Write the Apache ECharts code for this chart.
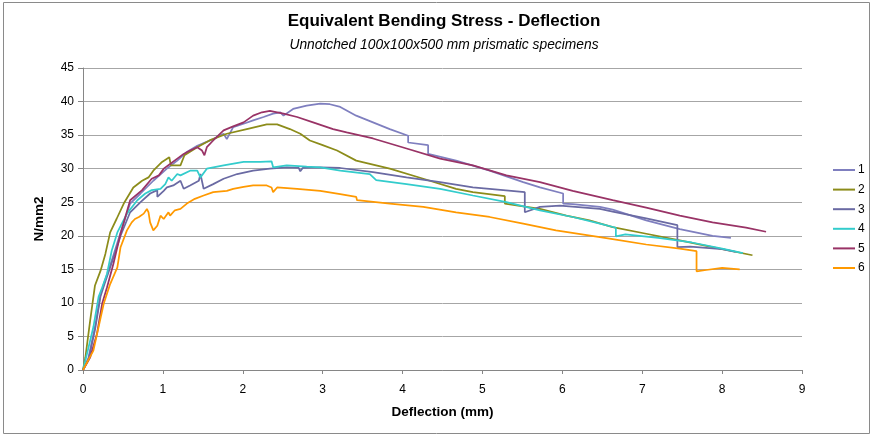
<!DOCTYPE html>
<html><head><meta charset="utf-8">
<script src="https://cdn.jsdelivr.net/npm/echarts@6/dist/echarts.min.js"></script>
<style>html,body{margin:0;padding:0;background:#fff}#c{width:873px;height:436px}</style>
</head><body><div id="c"></div>
<script>
const seriesNames = ['1','2','3','4','5','6'];
const seriesColors = ['#7F7FBF','#8C8C1A','#6A6AA3','#33CCCC','#993366','#FF9900'];
const xTicks = [0,1,2,3,4,5,6,7,8,9];
const yTicks = [0,5,10,15,20,25,30,35,40,45];

const defl1 = [0,0.07,0.15,0.22,0.26,0.36,0.47,0.59,0.72,0.88,1.05,1.18,1.3,1.43,1.63,1.76,1.8,1.88,2.01,2.13,2.26,2.38,2.47,2.51,2.63,2.8,2.97,3.09,3.22,3.42,3.63,3.84,4.07,4.07,4.32,4.32,4.67,5.09,5.51,5.72,6.01,6.01,6.13,6.47,6.63,7.05,7.47,7.88,8.11];
const stress1 = [0,1.9,6.4,11.4,12.8,16.3,20.5,24.8,26.3,28.2,30,31.2,32.5,33.4,34.4,35.2,34.4,36.2,36.7,37.2,37.7,38.2,38.4,37.9,38.9,39.4,39.7,39.6,39.2,37.9,36.9,35.9,34.9,33.9,33.5,32.2,31.2,29.7,28.0,27.2,26.3,24.8,24.7,24.3,23.9,22.3,21.0,20.0,19.7];

const defl2 = [0,0.03,0.09,0.15,0.22,0.28,0.34,0.42,0.51,0.63,0.74,0.82,0.88,0.99,1.08,1.1,1.22,1.27,1.43,1.6,1.8,2.05,2.3,2.43,2.59,2.72,2.84,3.0,3.18,3.42,3.84,4.26,4.67,4.88,5.28,5.28,5.72,6.05,6.34,6.63,7.05,7.47,7.88,8.38];
const stress2 = [0,1.9,7.4,12.6,14.8,17.3,20.5,22.5,24.8,27.2,28.2,28.7,29.7,31.0,31.7,30.5,30.5,32.0,33.2,34.3,35.2,35.9,36.6,36.6,35.9,35.2,34.2,33.5,32.7,31.2,30.0,28.5,27.0,26.5,25.9,24.8,24.0,23.0,22.3,21.3,20.3,19.3,18.3,17.1];

const defl3 = [0,0.07,0.15,0.22,0.26,0.36,0.47,0.59,0.72,0.84,0.93,0.93,1.01,1.05,1.13,1.22,1.26,1.34,1.45,1.47,1.51,1.63,1.76,1.93,2.13,2.34,2.55,2.7,2.72,2.75,2.97,3.22,3.63,4.05,4.47,4.88,5.26,5.53,5.53,5.72,5.97,6.47,6.63,7.05,7.44,7.44,7.6,8.0,8.17];
const stress3 = [0,1.6,6.0,11.0,12.5,16.0,20.0,23.5,25.0,26.3,26.8,25.8,26.7,27.2,27.5,28.2,27.0,27.5,28.2,29.2,27.0,27.7,28.5,29.2,29.7,30.0,30.2,30.1,29.6,30.1,30.2,30.1,29.5,28.7,28.0,27.2,26.8,26.5,23.5,24.3,24.5,24.0,23.6,22.6,21.6,18.3,18.4,18.0,17.6];

const defl4 = [0,0.05,0.13,0.195,0.24,0.3,0.36,0.43,0.55,0.68,0.78,0.86,0.97,1.03,1.07,1.11,1.18,1.22,1.34,1.43,1.47,1.55,1.76,2.01,2.22,2.36,2.38,2.55,2.8,2.97,3.22,3.59,3.67,4.05,4.47,4.88,5.3,5.72,6.13,6.47,6.67,6.67,6.79,7.2,7.62,8.0,8.26];
const stress4 = [0,2.4,6.4,10.9,12.3,14.3,17.8,20.5,23.3,25.3,26.3,26.8,27.0,27.7,28.7,28.2,29.2,29.0,29.7,29.7,28.7,30.0,30.5,31.0,31.0,31.1,30.2,30.5,30.3,30.2,29.7,29.2,28.3,27.7,27.0,26.0,25.0,23.8,22.8,21.8,21.2,19.9,20.2,19.7,19.0,18.1,17.4];

const defl5 = [0,0.09,0.175,0.24,0.3,0.38,0.47,0.59,0.74,0.86,0.95,1.01,1.09,1.18,1.26,1.34,1.43,1.49,1.52,1.55,1.63,1.76,1.88,2.01,2.13,2.24,2.34,2.43,2.51,2.68,2.88,3.13,3.3,3.63,4.05,4.47,4.88,5.3,5.72,6.13,6.63,7.05,7.47,7.88,8.3,8.55];
const stress5 = [0,1.9,5.4,9.9,12.3,15.8,20.3,25.3,26.8,28.5,29.0,30.0,30.7,31.5,32.2,32.7,33.2,32.7,32.0,33.2,34.2,35.7,36.3,36.9,37.9,38.4,38.6,38.4,38.2,37.7,36.9,35.9,35.4,34.5,33.0,31.5,30.5,29.0,28.0,26.7,25.3,24.2,23.0,22.0,21.2,20.6];

const defl6 = [0,0.13,0.195,0.26,0.34,0.43,0.47,0.55,0.61,0.65,0.7,0.76,0.8,0.82,0.84,0.88,0.93,0.97,1.01,1.07,1.09,1.15,1.22,1.3,1.4,1.51,1.63,1.8,1.88,2.01,2.13,2.3,2.36,2.38,2.43,2.68,2.97,3.22,3.42,3.43,3.84,4.26,4.67,5.09,5.51,5.92,6.47,6.63,7.05,7.47,7.68,7.68,7.8,8.0,8.22];
const stress6 = [0,2.9,6.4,9.9,12.8,15.3,18.3,20.8,22.0,22.5,22.8,23.3,24.0,23.5,22.0,20.8,21.5,23.0,22.5,23.5,23.0,23.8,24.0,24.8,25.5,26.0,26.5,26.7,27.0,27.3,27.5,27.5,27.2,26.5,27.2,27.0,26.7,26.2,25.8,25.3,24.8,24.3,23.5,22.8,21.8,20.8,19.8,19.5,18.7,18.1,17.7,14.7,14.9,15.2,15.0];

const deflections = [defl1,defl2,defl3,defl4,defl5,defl6];
const stresses = [stress1,stress2,stress3,stress4,stress5,stress6];

const FONT = '"Liberation Sans",Arial,sans-serif';
const chart = echarts.init(document.getElementById('c'), null, {renderer:'canvas'});
const series = seriesNames.map((n,i)=>({
  name:n, type:'line', showSymbol:false, symbol:'none', animation:false,
  data: deflections[i].map((x,j)=>[x, stresses[i][j]]),
  lineStyle:{color:seriesColors[i], width:1.75},
  itemStyle:{color:seriesColors[i]}
}));
chart.setOption({
  animation:false,
  backgroundColor:'#fff',
  graphic:[
    {type:'rect', shape:{x:3.5,y:2.5,width:866,height:431}, style:{fill:'none',stroke:'#8a8a8a',lineWidth:1}, silent:true},
    {type:'text', x:444, y:13, style:{text:'Equivalent Bending Stress - Deflection', font:'bold 17px '+FONT, fill:'#000', textAlign:'center'}},
    {type:'text', x:444, y:38, style:{text:'Unnotched 100x100x500 mm prismatic specimens', font:'italic 13.8px '+FONT, fill:'#000', textAlign:'center'}}
  ],
  grid:{left:83, right:71, top:68, bottom:66, containLabel:false},
  legend:{
    orient:'vertical', left:833, top:163, padding:0, itemWidth:22, itemHeight:2, itemGap:5.6,
    icon:'rect', textStyle:{fontFamily:FONT, fontSize:12, color:'#000', lineHeight:14, padding:[0,0,0,-2]},
    data:seriesNames
  },
  xAxis:{
    type:'value', min:0, max:9, interval:1,
    name:'Deflection (mm)', nameLocation:'middle', nameGap:35,
    nameTextStyle:{fontFamily:FONT, fontWeight:'bold', fontSize:13.5, color:'#000'},
    axisLine:{lineStyle:{color:'#868686'}},
    axisTick:{show:true, length:4, lineStyle:{color:'#868686'}},
    axisLabel:{fontFamily:FONT, fontSize:12, color:'#000', margin:14},
    splitLine:{show:false}
  },
  yAxis:{
    type:'value', min:0, max:45, interval:5,
    name:'N/mm2', nameLocation:'middle', nameGap:37, nameRotate:90,
    nameTextStyle:{fontFamily:FONT, fontWeight:'bold', fontSize:13.5, color:'#000'},
    axisLine:{show:true, lineStyle:{color:'#868686'}},
    axisTick:{show:true, length:5, lineStyle:{color:'#868686'}},
    axisLabel:{fontFamily:FONT, fontSize:12, color:'#000', margin:9},
    splitLine:{show:true, lineStyle:{color:'#A6A6A6', width:1}}
  },
  series: series
});
</script></body></html>
